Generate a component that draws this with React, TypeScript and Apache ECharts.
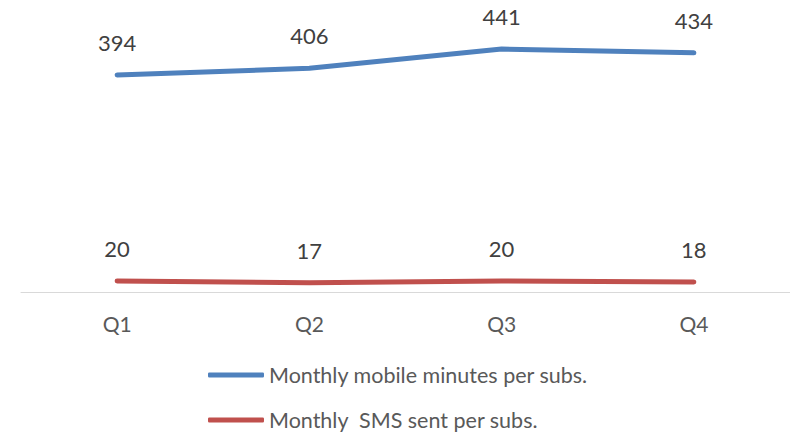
import React, { useEffect, useRef } from "react";
import * as echarts from "echarts";

const categories = ["Q1", "Q2", "Q3", "Q4"];
const minutesName = "Monthly mobile minutes per subs.";
const smsName = "Monthly  SMS sent per subs.";
const minutesValues = [394, 406, 441, 434];
const smsValues = [20, 17, 20, 18];

const FONT = "Lato";

export default function App() {
  const ref = useRef<HTMLDivElement>(null);
  useEffect(() => {
    document.body.style.margin = "0";
    const chart = echarts.init(ref.current!, null, { renderer: "svg" });
    const label = {
      show: true,
      position: "top" as const,
      distance: 21,
      color: "#404040",
      fontSize: 22,
      fontFamily: FONT,
    };
    chart.setOption({
      animation: false,
      backgroundColor: "#ffffff",
      grid: { left: 21, width: 772, top: 16.5, bottom: 141 },
      xAxis: {
        type: "category",
        data: categories,
        boundaryGap: true,
        axisLine: { show: true, lineStyle: { color: "#d9d9d9", width: 1 } },
        axisTick: { show: false },
        axisLabel: { color: "#595959", fontSize: 21, fontFamily: FONT, margin: 21 },
      },
      yAxis: {
        type: "value",
        min: 0,
        max: 500,
        show: false,
        splitLine: { show: false },
      },
      legend: {
        orient: "vertical",
        left: 208,
        top: 364,
        height: 120,
        padding: 0,
        itemWidth: 56,
        itemHeight: 5,
        itemGap: 23,
        icon: "roundRect",
        textStyle: { color: "#595959", fontSize: 21.5, fontFamily: FONT },
        data: [minutesName, smsName],
      },
      series: [
        {
          name: minutesName,
          type: "line",
          data: minutesValues,
          symbol: "circle",
          symbolSize: 1,
          lineStyle: { color: "#4f81bd", width: 5, cap: "round" },
          itemStyle: { color: "#4f81bd" },
          label,
        },
        {
          name: smsName,
          type: "line",
          data: smsValues,
          symbol: "circle",
          symbolSize: 1,
          lineStyle: { color: "#c0504d", width: 5, cap: "round" },
          itemStyle: { color: "#c0504d" },
          label,
        },
      ],
    });
    return () => chart.dispose();
  }, []);
  return <div ref={ref} style={{ width: 790, height: 433 }} />;
}
